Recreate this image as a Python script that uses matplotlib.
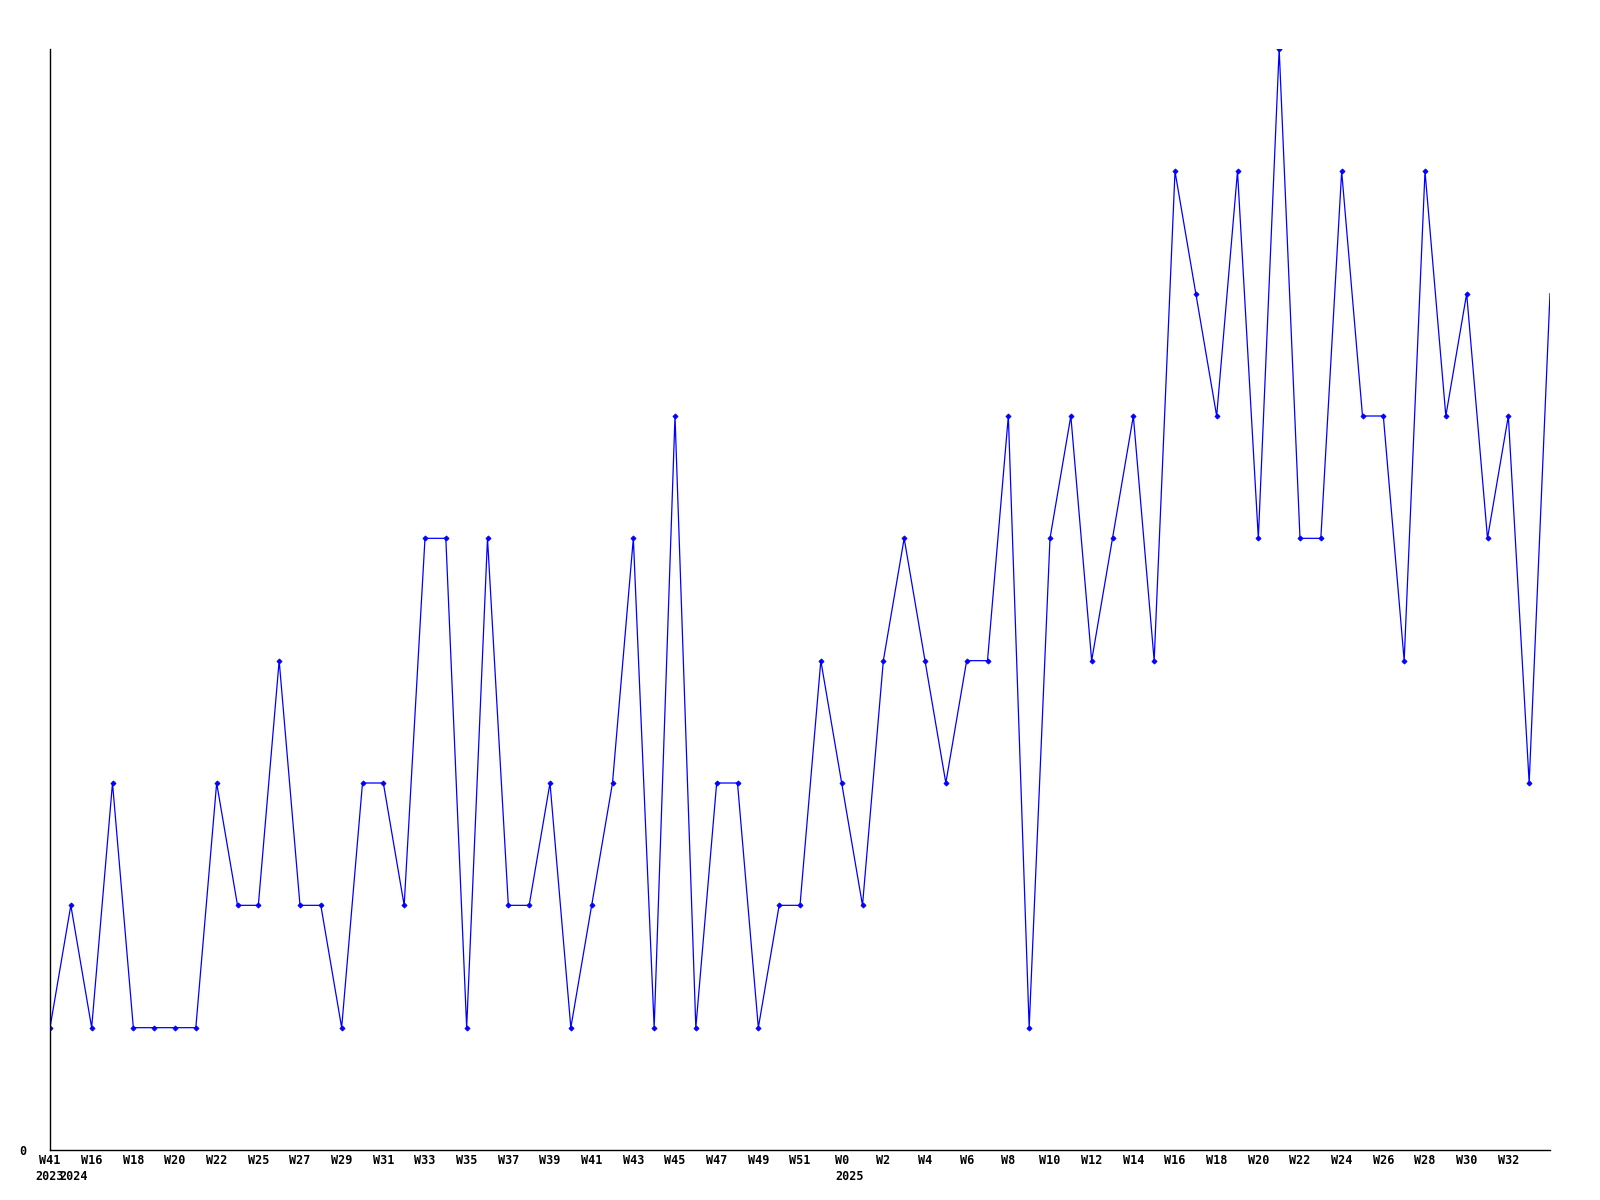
import matplotlib
matplotlib.use("Agg")
import matplotlib.pyplot as plt
from matplotlib.transforms import blended_transform_factory

values = [1, 2, 1, 3, 1, 1, 1, 1, 3, 2, 2, 4, 2, 2, 1, 3, 3, 2, 5, 5,
          1, 5, 2, 2, 3, 1, 2, 3, 5, 1, 6, 1, 3, 3, 1, 2, 2, 4, 3, 2,
          4, 5, 4, 3, 4, 4, 6, 1, 5, 6, 4, 5, 6, 4, 8, 7, 6, 8, 5, 9,
          5, 5, 8, 6, 6, 4, 8, 6, 7, 5, 6, 3, 7]

week_labels = ["W41", "W16", "W18", "W20", "W22", "W25", "W27", "W29", "W31",
               "W33", "W35", "W37", "W39", "W41", "W43", "W45", "W47", "W49",
               "W51", "W0", "W2", "W4", "W6", "W8", "W10", "W12", "W14", "W16",
               "W18", "W20", "W22", "W24", "W26", "W28", "W30", "W32"]
week_label_idx = list(range(0, 71, 2))

year_labels = ["2023", "2024", "2025"]
year_idx = [0, 1.15, 38.4]

font = dict(family="DejaVu Sans Mono", weight="bold", size=8.5)

fig = plt.figure(figsize=(16, 12), dpi=100)
ax = fig.add_axes([50 / 1600, 50 / 1200, 1500 / 1600, 1101 / 1200])

x = list(range(len(values)))
ax.plot(x, values, color="#0000ff", lw=0.9, marker="D", markersize=2.6,
        markeredgewidth=0.6, markevery=list(range(len(values) - 1)))

ax.set_xlim(0, len(values) - 1)
ax.set_ylim(0, 9)

for s in ["top", "right"]:
    ax.spines[s].set_visible(False)
for s in ["left", "bottom"]:
    ax.spines[s].set_linewidth(1.0)
    ax.spines[s].set_color("black")

ax.set_xticks(week_label_idx)
ax.set_xticklabels(week_labels, **font)
ax.tick_params(axis="x", length=0, pad=3)
ax.set_yticks([0])
ax.set_yticklabels(["0"], **font)
ax.tick_params(axis="y", length=0, pad=17)

trans = blended_transform_factory(ax.transData, ax.transAxes)
for xi, yl in zip(year_idx, year_labels):
    ax.text(xi, -27 / 1101, yl, transform=trans, ha="center", va="center", **font)

fig.savefig("out.png", dpi=100, facecolor="white")
